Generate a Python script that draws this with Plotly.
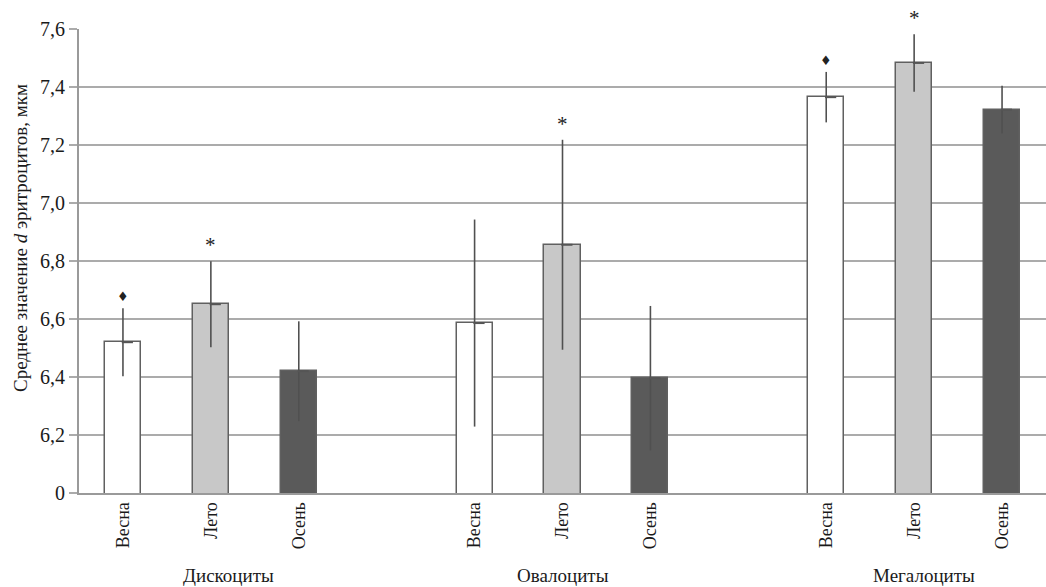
import plotly.graph_objects as go

groups = ["Дискоциты", "Овалоциты", "Мегалоциты"]
seasons = ["Весна", "Лето", "Осень"]
colors = ["#ffffff", "#c8c8c8", "#5a5a5a"]

# means per group, ordered by season (Весна, Лето, Осень)
means = {
    "Дискоциты": [6.52, 6.651, 6.42],
    "Овалоциты": [6.586, 6.856, 6.396],
    "Мегалоциты": [7.365, 7.483, 7.322],
}
errors = {
    "Дискоциты": [0.117, 0.148, 0.172],
    "Овалоциты": [0.357, 0.362, 0.249],
    "Мегалоциты": [0.087, 0.099, 0.082],
}
signs = {
    "Дискоциты": ["♦", "*", ""],
    "Овалоциты": ["", "*", ""],
    "Мегалоциты": ["♦", "*", ""],
}

y_tickvals = [6.0, 6.2, 6.4, 6.6, 6.8, 7.0, 7.2, 7.4, 7.6]
y_ticktext = ["0", "6,2", "6,4", "6,6", "6,8", "7,0", "7,2", "7,4", "7,6"]
y_title = "Среднее значение <i>d</i> эритроцитов, мкм"

FONT = "Liberation Serif"
TXT = "#1a1a1a"
fig = go.Figure()

tickvals, ticktext = [], []
annotations = []
for gi, g in enumerate(groups):
    for si, s in enumerate(seasons):
        tickvals.append(gi * 4 + si)
        ticktext.append(s)

for si, s in enumerate(seasons):
    xs = [gi * 4 + si for gi in range(len(groups))]
    ys = [means[g][si] for g in groups]
    es = [errors[g][si] for g in groups]
    fig.add_trace(go.Bar(
        x=xs, y=ys, width=0.41,
        marker=dict(color=colors[si], line=dict(color="#606060", width=1.5)),
        error_y=dict(type="data", array=es, visible=True, color="#505050",
                     thickness=1.6, width=0),
        showlegend=False,
    ))
    fig.add_trace(go.Scatter(
        x=[x + 0.05 for x in xs], y=ys, mode="markers",
        marker=dict(symbol="line-ew", size=8, line=dict(color="#555555", width=2)),
        showlegend=False, hoverinfo="skip",
    ))
    for gi, g in enumerate(groups):
        t = signs[g][si]
        if t:
            annotations.append(dict(
                x=xs[gi], y=ys[gi] + es[gi], xref="x", yref="y",
                text=t, showarrow=False, yanchor="bottom", yshift=2,
                font=dict(family=FONT if t == "*" else "DejaVu Sans",
                          size=21 if t == "*" else 13, color="#222222"),
            ))

label_shift = [18, 0, 10]
for gi, g in enumerate(groups):
    annotations.append(dict(
        x=gi * 4 + 1, y=0, xref="x", yref="paper", text=g, showarrow=False,
        yanchor="middle", yshift=-82, xshift=label_shift[gi],
        font=dict(family=FONT, size=19, color=TXT),
    ))

annotations.append(dict(
    x=0, y=(493 - 238) / 464, xref="paper", yref="paper", text=y_title,
    showarrow=False, textangle=-90, xanchor="center", yanchor="middle",
    xshift=-59, font=dict(family=FONT, size=19, color=TXT),
))

fig.update_layout(
    width=1046, height=587,
    margin=dict(l=79, r=0, t=29, b=94),
    plot_bgcolor="white", paper_bgcolor="white",
    bargap=0,
    annotations=annotations,
    font=dict(family=FONT, color=TXT),
    xaxis=dict(
        range=[-0.5, 10.5], tickmode="array", tickvals=tickvals, ticktext=ticktext,
        tickangle=-90, tickfont=dict(family=FONT, size=18, color=TXT),
        showgrid=False, showline=True, linecolor="#9a9a9a", linewidth=2,
        ticks="", zeroline=False,
    ),
    yaxis=dict(
        range=[6.0, 7.6], tickmode="array", tickvals=y_tickvals, ticktext=y_ticktext,
        tickfont=dict(family=FONT, size=20, color=TXT),
        showgrid=True, gridcolor="#ababab", gridwidth=2,
        showline=True, linecolor="#9a9a9a", linewidth=2,
        ticks="outside", ticklen=8, tickcolor="#ababab", tickwidth=2,
        zeroline=False,
    ),
)

fig.write_html("out.html")
